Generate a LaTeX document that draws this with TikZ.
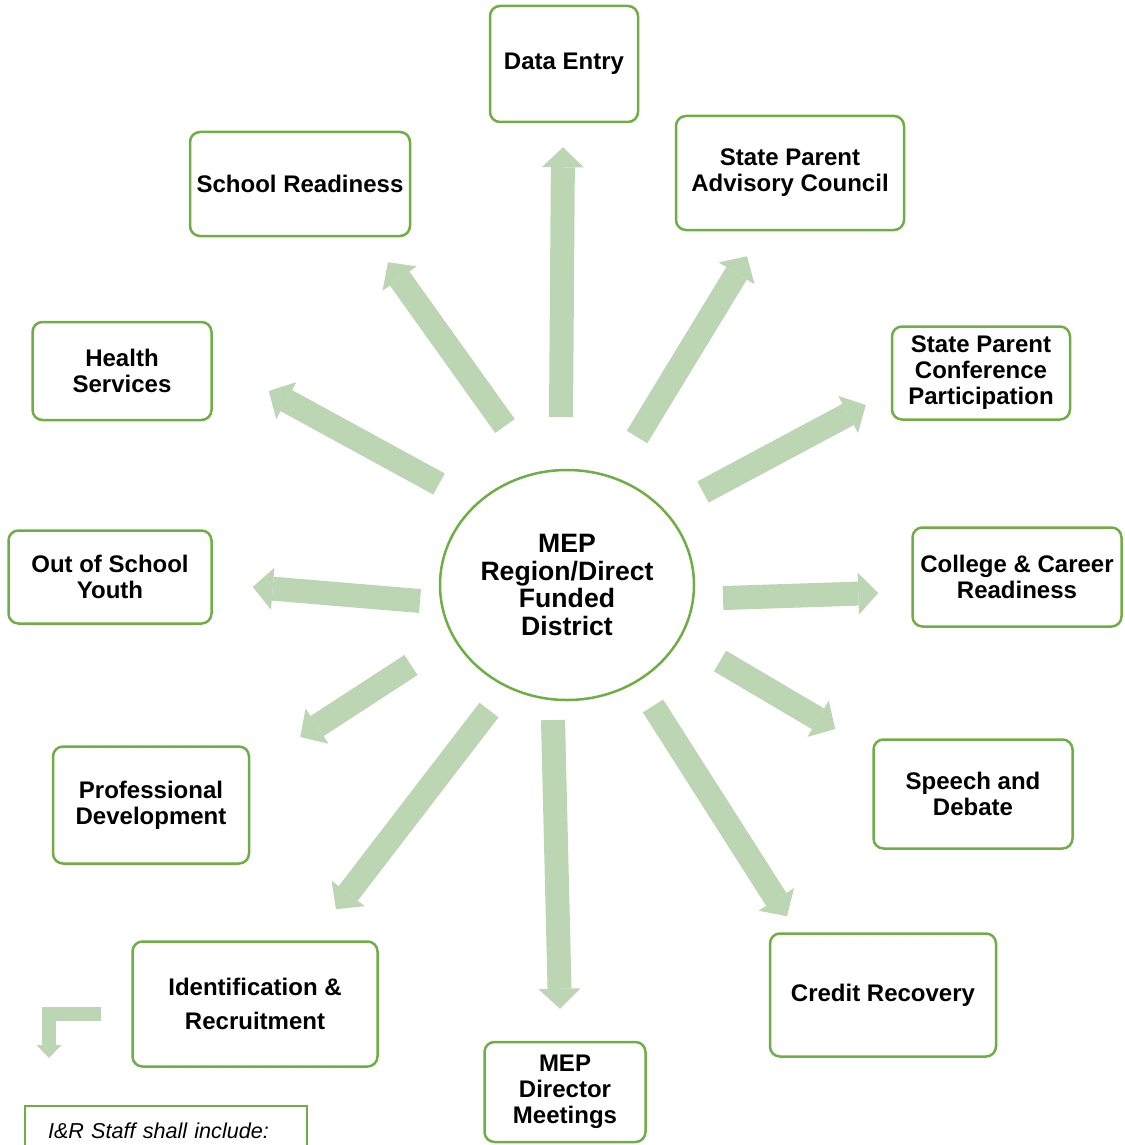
\documentclass[tikz,border=0pt]{standalone}
\usepackage{fontspec}
\setmainfont{Liberation Sans}
\usetikzlibrary{arrows.meta,calc,shapes.geometric}
\definecolor{boxgreen}{RGB}{112,173,71}
\definecolor{arrowgreen}{RGB}{188,213,178}

\begin{document}
\begin{tikzpicture}[x=0.5pt, y=-0.5pt,
      every node/.style={align=center},
      task/.style={rectangle, draw=boxgreen, line width=1.25pt, rounded corners=5pt,
                   font=\fontsize{12}{13}\selectfont\bfseries, inner sep=2pt},
      hubnode/.style={ellipse, draw=boxgreen, line width=1.25pt, minimum width=127pt,
                   minimum height=115pt, inner sep=0pt,
                   font=\fontsize{13.3}{13.8}\selectfont\bfseries},
      staffbox/.style={rectangle, draw=boxgreen, line width=1pt, align=left,
                   font=\fontsize{10.8}{13}\selectfont\itshape, text width=118pt,
                   inner xsep=11.5pt, inner ysep=4pt, text height=12pt, text depth=40pt},
      blk/.style={line width=12pt, draw=arrowgreen,
                  -{Triangle[length=10pt, width=21pt, line width=0pt]}},
      bent/.style={line width=7pt, draw=arrowgreen,
                  -{Triangle[length=6.5pt, width=12.5pt, line width=0pt]}},
    ]
    % Coordinates are in pixels of the page, y running downwards.
    \useasboundingbox (0,0) rectangle (1124,1145);
    \node[hubnode] (hub) at (567,585) {MEP\\Region/Direct\\Funded\\District};
    \node[task, minimum width=74pt, minimum height=58pt] (dentry) at (564,64) {Data Entry};
    \node[task, minimum width=114pt, minimum height=57pt] (spac) at (790,173) {State Parent\\Advisory Council};
    \node[task, minimum width=89pt, minimum height=46.5pt] (spcp) at (981,373) {State Parent\\Conference\\Participation};
    \node[task, minimum width=104.5pt, minimum height=49.5pt] (ccr) at (1017,577) {College \& Career\\Readiness};
    \node[task, minimum width=99.5pt, minimum height=54.5pt] (speech) at (973,794) {Speech and\\Debate};
    \node[task, minimum width=113pt, minimum height=61.5pt] (credit) at (883,995) {Credit Recovery};
    \node[task, minimum width=80.5pt, minimum height=50pt] (mepdir) at (565,1092) {MEP\\Director\\Meetings};
    \node[task, minimum width=122.5pt, minimum height=62.5pt] (ident) at (255,1004) {Identification \&\\[4pt]Recruitment};
    \node[task, minimum width=98pt, minimum height=58.5pt] (profdev) at (151,805) {Professional\\Development};
    \node[task, minimum width=101.5pt, minimum height=46.5pt] (oosy) at (110,577) {Out of School\\Youth};
    \node[task, minimum width=89.5pt, minimum height=49pt] (health) at (122,371) {Health\\Services};
    \node[task, minimum width=110pt, minimum height=52pt] (school) at (300,184) {School Readiness};
    % The staff box runs off the bottom of the page.
    \node[staffbox, anchor=north west] (staff) at (24,1105) {I\&R Staff shall include:};
    % Block arrows: free at both ends, so each end is set off from a node.
    \draw[blk] ($(hub)+(-6,-168)$) -- ($(dentry.south)+(-1,24)$);
    \draw[blk] ($(hub)+(70,-148)$) -- ($(spac.south)+(-43,25)$);
    \draw[blk] ($(hub)+(136,-93)$) -- ($(spcp.west)+(-25,32)$);
    \draw[blk] ($(hub)+(156,13)$) -- ($(ccr.west)+(-33,16)$);
    \draw[blk] ($(hub)+(153,76)$) -- ($(speech.west)+(-37,-65)$);
    \draw[blk] ($(hub)+(86,121)$) -- ($(credit.north)+(-96,-16)$);
    \draw[blk] ($(hub)+(-14,135)$) -- ($(mepdir.north)+(-5,-32)$);
    \draw[blk] ($(hub)+(-78,125)$) -- ($(ident.north)+(81,-31)$);
    \draw[blk] ($(hub)+(-156,80)$) -- ($(profdev.east)+(50,-68)$);
    \draw[blk] ($(hub)+(-147,16)$) -- ($(oosy.east)+(40,10)$);
    \draw[blk] ($(hub)+(-128,-101)$) -- ($(health.east)+(56,20)$);
    \draw[blk] ($(hub)+(-62,-159)$) -- ($(school.south)+(88,25)$);
    % Bent arrow pointing down to the staff box.
    \draw[bent] ($(ident.west)+(-30,10)$) -| ($(staff.north west)+(25,-47)$);
  \end{tikzpicture}
\end{document}
